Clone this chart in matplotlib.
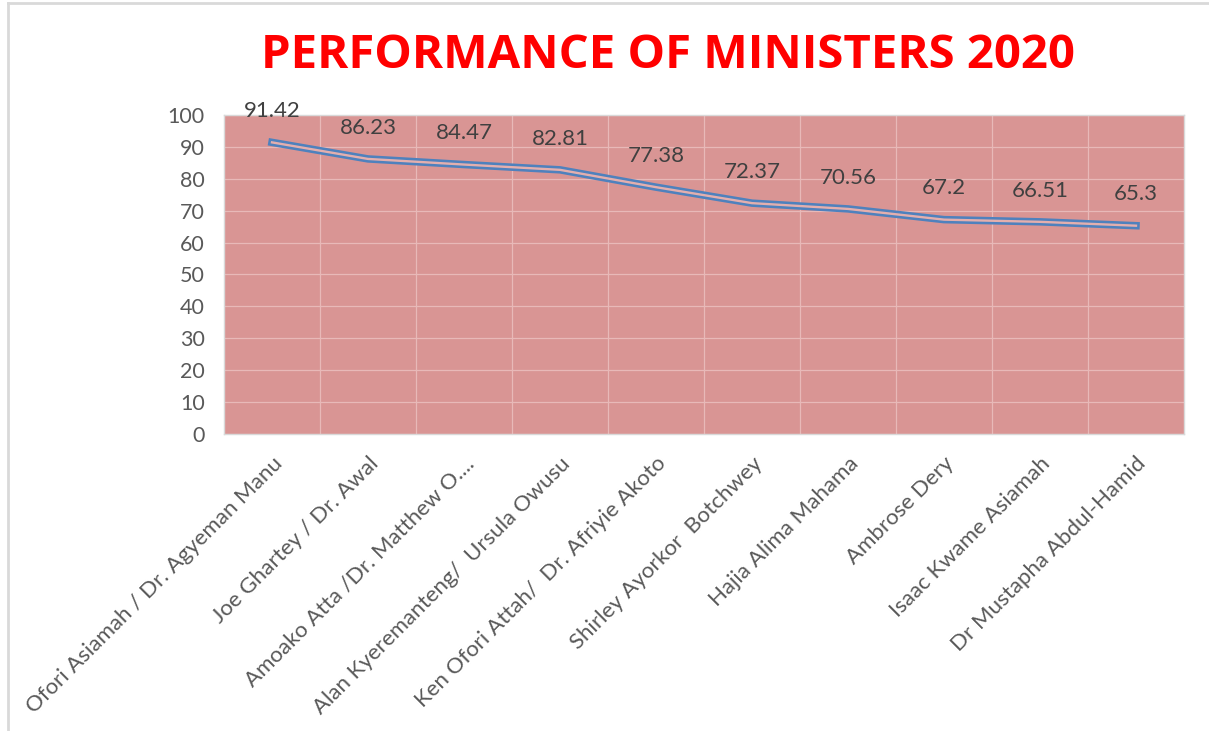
import matplotlib
matplotlib.use("Agg")
import matplotlib.pyplot as plt
from matplotlib.lines import Line2D

categories = [
    "Ofori Asiamah / Dr. Agyeman Manu",
    "Joe Ghartey / Dr. Awal",
    "Amoako Atta /Dr. Matthew O....",
    "Alan Kyeremanteng/  Ursula Owusu",
    "Ken Ofori Attah/  Dr. Afriyie Akoto",
    "Shirley Ayorkor  Botchwey",
    "Hajia Alima Mahama",
    "Ambrose Dery",
    "Isaac Kwame Asiamah",
    "Dr Mustapha Abdul-Hamid",
]
scores = [91.42, 86.23, 84.47, 82.81, 77.38, 72.37, 70.56, 67.2, 66.51, 65.3]
score_labels = ["91.42", "86.23", "84.47", "82.81", "77.38", "72.37", "70.56", "67.2", "66.51", "65.3"]
yticks = [0, 10, 20, 30, 40, 50, 60, 70, 80, 90, 100]

FONT = "Lato"
TEXT = "#595959"
FACE = "#D99594"

fig = plt.figure(figsize=(12.09, 7.31), dpi=100)
fig.patch.set_facecolor("white")
# chart border (top and left visible)
fig.add_artist(Line2D([7.5/1209, 7.5/1209], [0, 1 - 3/731], transform=fig.transFigure,
                      color="#D9D9D9", lw=2))
fig.add_artist(Line2D([7.5/1209, 1], [1 - 3/731, 1 - 3/731], transform=fig.transFigure,
                      color="#D9D9D9", lw=2))

ax = fig.add_axes([224/1209, 1 - 434/731, 960/1209, 319/731])
ax.set_facecolor(FACE)
x = list(range(len(categories)))

ax.plot(x, scores, color="#4F81BD", lw=5.4, solid_joinstyle="miter", zorder=3)
ax.plot(x, scores, color="#E3AFAE", lw=1.7, solid_joinstyle="miter", zorder=4)

for xi, v, lab in zip(x, scores, score_labels):
    ax.annotate(lab, (xi, v), xytext=(0, 22.5), textcoords="offset points",
                ha="center", va="center", fontsize=16, color="#404040", family=FONT,
                zorder=5)

ax.set_xlim(-0.5, len(categories) - 0.5)
ax.set_ylim(0, 100)
ax.set_yticks(yticks)
ax.set_yticklabels([str(t) for t in yticks], fontsize=15.5, color=TEXT, family=FONT)
ax.set_xticks(x)
ax.set_xticklabels(categories, rotation=45, ha="right", va="top", rotation_mode="anchor",
                   fontsize=16, color=TEXT, family=FONT)
ax.set_xticks([i + 0.5 for i in range(len(categories) - 1)], minor=True)
ax.tick_params(axis="both", which="both", length=0)
ax.tick_params(axis="y", pad=14)
ax.tick_params(axis="x", pad=14)
ax.grid(axis="y", which="major", color="#E8B9B8", lw=0.9)
ax.grid(axis="x", which="minor", color="#E8B9B8", lw=0.9)
ax.set_axisbelow(True)
for s in ax.spines.values():
    s.set_color("#D9D9D9")
    s.set_linewidth(1)

fig.text(668/1209, 1 - 55/731, "PERFORMANCE OF MINISTERS 2020", ha="center", va="center",
         fontsize=34, fontweight="bold", color="#FF0000", family="Open Sans")

fig.savefig("out.png", dpi=100, facecolor="white")
